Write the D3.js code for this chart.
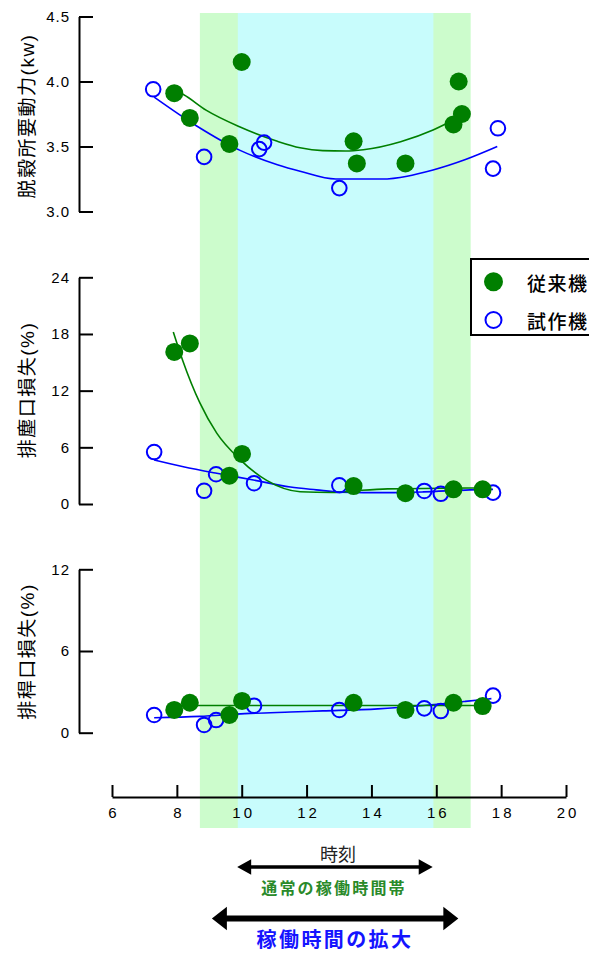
<!DOCTYPE html>
<html>
<head>
<meta charset="utf-8">
<script src="https://cdn.jsdelivr.net/npm/d3@7"></script>
<style>
  html, body { margin: 0; padding: 0; background: #fff; }
  svg { display: block; }
  text { font-family: "Liberation Sans", Arial, "Noto Sans CJK JP", sans-serif; }
  .jp { font-family: "Noto Sans CJK JP", "Liberation Sans", sans-serif; }
</style>
</head>
<body>
<script>
// ---- data -------------------------------------------------------------
// measurement times (hour of day) and values, 従来機 = conventional, 試作機 = prototype
const powerConvT = [7.92, 8.40, 9.62, 10.0, 13.45, 13.55, 15.05, 16.69, 16.79, 16.53];
const powerConvV = [3.91, 3.72, 3.52, 4.15, 3.54, 3.37, 3.37, 4.00, 3.75, 3.67];
const powerProtoT = [7.27, 8.84, 10.54, 10.69, 13.01, 17.75, 17.90];
const powerProtoV = [3.94, 3.42, 3.48, 3.53, 3.18, 3.33, 3.64];

const dustConvT = [7.92, 8.40, 9.62, 10.01, 13.45, 15.05, 16.53, 17.43];
const dustConvV = [16.1, 17.0, 3.0, 5.3, 1.9, 1.15, 1.55, 1.55];
const dustProtoT = [7.30, 8.84, 9.21, 10.38, 13.01, 15.63, 16.14, 17.75];
const dustProtoV = [5.5, 1.4, 3.15, 2.2, 1.98, 1.38, 1.08, 1.2];

const strawConvT = [7.92, 8.40, 9.62, 10.01, 13.45, 15.05, 16.53, 17.43];
const strawConvV = [1.67, 2.2, 1.3, 2.33, 2.2, 1.67, 2.2, 1.96];
const strawProtoT = [7.30, 8.84, 9.21, 10.38, 13.01, 15.63, 16.14, 17.75];
const strawProtoV = [1.3, 0.57, 0.93, 1.98, 1.67, 1.79, 1.59, 2.72];

// fitted trend curves, [time, value]
const powerConvFit = [[7.95, 3.93], [8.2, 3.90], [8.9, 3.78], [9.95, 3.65], [11.1, 3.54], [11.8, 3.49],
  [12.5, 3.468], [13.2, 3.465], [13.75, 3.475], [14.9, 3.537], [15.9, 3.627], [16.5, 3.70]];
const powerProtoFit = [[7.3, 3.88], [8.6, 3.66], [9.95, 3.47], [11.1, 3.36], [11.8, 3.31], [12.9, 3.25],
  [14.3, 3.25], [15.9, 3.32], [16.9, 3.40], [17.88, 3.50]];
const dustConvFit = [[7.89, 18.2], [8.18, 15.2], [8.71, 10.7], [9.23, 7.5], [9.95, 4.7], [10.77, 2.5],
  [11.8, 1.3], [12.8, 1.22], [13.5, 1.4], [14.5, 1.6], [16.5, 1.68], [17.4, 1.7]];
const dustProtoFit = [[7.3, 4.66], [8.2, 3.95], [9.23, 3.25], [10.36, 2.54], [11.5, 1.8], [12.3, 1.5],
  [13.03, 1.26], [14.5, 1.2], [15.6, 1.28], [17.04, 1.5], [17.75, 1.55]];
const strawConvFit = [[7.92, 2.0], [12.0, 2.0], [17.43, 2.0]];
const strawProtoFit = [[7.3, 1.1], [8.7, 1.2], [10.1, 1.4], [11.5, 1.52], [12.5, 1.6], [14.2, 1.75],
  [15.6, 2.0], [16.9, 2.3], [17.7, 2.5]];

// shaded time bands (hours)
const extendedBand = [8.71, 17.06];
const normalBand = [9.88, 15.91];
// arrows under the axis (hours)
const normalArrow = [9.86, 15.89];
const extendedArrow = [9.08, 16.68];

const xTicks = [6, 8, 10, 12, 14, 16, 18, 20];
const powerTicks = [3.0, 3.5, 4.0, 4.5];
const dustTicks = [0, 6, 12, 18, 24];
const strawTicks = [0, 6, 12];

const seriesNames = ["従来機", "試作機"];
const panelTitles = ["脱穀所要動力(kw)", "排塵口損失(%)", "排稈口損失(%)"];

// ---- drawing ----------------------------------------------------------
const W = 589, H = 953;
const GREEN = "#007f00", BLUE = "#0000ff";

const svg = d3.select("body").append("svg").attr("width", W).attr("height", H);

const x = d3.scaleLinear().domain([6, 20]).range([112, 566]);

const panels = [
  { title: panelTitles[0], y: d3.scaleLinear().domain([3, 4.5]).range([211.5, 16.5]), ticks: powerTicks, fmt: d3.format(".1f"),
    conv: [powerConvT, powerConvV], proto: [powerProtoT, powerProtoV], convFit: powerConvFit, protoFit: powerProtoFit, titleY: 116 },
  { title: panelTitles[1], y: d3.scaleLinear().domain([0, 24]).range([504, 277.3]), ticks: dustTicks, fmt: d3.format("d"),
    conv: [dustConvT, dustConvV], proto: [dustProtoT, dustProtoV], convFit: dustConvFit, protoFit: dustProtoFit, titleY: 390 },
  { title: panelTitles[2], y: d3.scaleLinear().domain([0, 12]).range([732.7, 569.3]), ticks: strawTicks, fmt: d3.format("d"),
    conv: [strawConvT, strawConvV], proto: [strawProtoT, strawProtoV], convFit: strawConvFit, protoFit: strawProtoFit, titleY: 651.5 }
];

// background bands
const bandTop = 13, bandBottom = 828;
svg.append("rect")
  .attr("x", x(extendedBand[0])).attr("y", bandTop)
  .attr("width", x(extendedBand[1]) - x(extendedBand[0])).attr("height", bandBottom - bandTop)
  .attr("fill", "#ccfccc");
svg.append("rect")
  .attr("x", x(normalBand[0])).attr("y", bandTop)
  .attr("width", x(normalBand[1]) - x(normalBand[0])).attr("height", bandBottom - bandTop)
  .attr("fill", "#c8fcfc");

// y axes and titles
const axisX = 79;
panels.forEach(p => {
  const g = svg.append("g").attr("transform", `translate(${axisX},0)`)
    .call(d3.axisLeft(p.y).tickValues(p.ticks).tickFormat(p.fmt)
      .tickSizeInner(-14).tickSizeOuter(0).tickPadding(9));
  g.select(".domain").attr("stroke", "#000").attr("stroke-width", 2);
  g.selectAll(".tick line").attr("stroke", "#000").attr("stroke-width", 2);
  g.selectAll(".tick text").attr("fill", "#000").attr("font-size", 15)
    .attr("letter-spacing", "1px")
    .style("font-family", '"Liberation Sans", Arial, sans-serif');

  svg.append("text")
    .attr("transform", `translate(27,${p.titleY}) rotate(-90)`)
    .attr("text-anchor", "middle").attr("dominant-baseline", "central")
    .attr("font-size", 19).attr("letter-spacing", "1.5px").attr("fill", "#000")
    .style("font-family", '"Liberation Sans", Arial, "Noto Sans CJK JP", sans-serif')
    .text(p.title);
});

// x axis
const xAxisY = 797;
const gx = svg.append("g").attr("transform", `translate(0,${xAxisY})`)
  .call(d3.axisBottom(x).tickValues(xTicks).tickFormat(d3.format("d"))
    .tickSizeInner(-12).tickSizeOuter(0).tickPadding(10));
gx.select(".domain").attr("stroke", "#000").attr("stroke-width", 2);
gx.selectAll(".tick line").attr("stroke", "#000").attr("stroke-width", 2);
gx.selectAll(".tick text").attr("fill", "#000").attr("font-size", 15)
  .attr("letter-spacing", "3px").attr("dx", "1.5px")
  .style("font-family", '"Liberation Sans", Arial, sans-serif');

// fits and markers
panels.forEach(p => {
  const line = d3.line().x(d => x(d[0])).y(d => p.y(d[1])).curve(d3.curveMonotoneX);
  svg.append("path").datum(p.protoFit).attr("d", line)
    .attr("fill", "none").attr("stroke", BLUE).attr("stroke-width", 1.6);
  svg.append("path").datum(p.convFit).attr("d", line)
    .attr("fill", "none").attr("stroke", GREEN).attr("stroke-width", 1.6);

  const proto = p.proto[0].map((t, i) => [t, p.proto[1][i]]);
  const conv = p.conv[0].map((t, i) => [t, p.conv[1][i]]);
  svg.append("g").selectAll("circle").data(proto).join("circle")
    .attr("cx", d => x(d[0])).attr("cy", d => p.y(d[1])).attr("r", 7.3)
    .attr("fill", "none").attr("stroke", BLUE).attr("stroke-width", 2);
  svg.append("g").selectAll("circle").data(conv).join("circle")
    .attr("cx", d => x(d[0])).attr("cy", d => p.y(d[1])).attr("r", 9)
    .attr("fill", GREEN);
});

// legend
const lg = svg.append("g");
lg.append("rect").attr("x", 471).attr("y", 259).attr("width", 130).attr("height", 76)
  .attr("fill", "#fff").attr("stroke", "#000").attr("stroke-width", 2);
lg.append("circle").attr("cx", 493.5).attr("cy", 281.7).attr("r", 9.5).attr("fill", GREEN);
lg.append("circle").attr("cx", 493.5).attr("cy", 320).attr("r", 8).attr("fill", "none")
  .attr("stroke", BLUE).attr("stroke-width", 2);
lg.selectAll("text.lab").data(seriesNames).join("text")
  .attr("class", "lab jp")
  .attr("x", 527).attr("y", (d, i) => i === 0 ? 282 : 320)
  .attr("dominant-baseline", "central").attr("font-size", 19).attr("font-weight", 500)
  .attr("letter-spacing", "1.5px").attr("fill", "#000").text(d => d);

// axis caption and arrows
svg.append("text").attr("class", "jp")
  .attr("x", 338).attr("y", 853).attr("text-anchor", "middle").attr("dominant-baseline", "central")
  .attr("font-size", 18).attr("fill", "#222").text("時刻");

function arrow(x1, x2, y, lw, headLen, headHalf) {
  svg.append("line").attr("x1", x1 + headLen - 1).attr("x2", x2 - headLen + 1)
    .attr("y1", y).attr("y2", y).attr("stroke", "#000").attr("stroke-width", lw);
  svg.append("path").attr("d",
    `M${x1},${y} L${x1 + headLen},${y - headHalf} L${x1 + headLen},${y + headHalf} Z` +
    `M${x2},${y} L${x2 - headLen},${y - headHalf} L${x2 - headLen},${y + headHalf} Z`)
    .attr("fill", "#000");
}
arrow(x(normalArrow[0]), x(normalArrow[1]), 867, 3.5, 14, 7.8);
arrow(x(extendedArrow[0]), x(extendedArrow[1]), 918.5, 6, 15, 11.8);

svg.append("text").attr("class", "jp")
  .attr("x", 334).attr("y", 887).attr("text-anchor", "middle").attr("dominant-baseline", "central")
  .attr("font-size", 16).attr("font-weight", 700).attr("letter-spacing", "2.2px")
  .attr("fill", "#2a8a2a").text("通常の稼働時間帯");

svg.append("text").attr("class", "jp")
  .attr("x", 335).attr("y", 938).attr("text-anchor", "middle").attr("dominant-baseline", "central")
  .attr("font-size", 20).attr("font-weight", 700).attr("letter-spacing", "2.4px")
  .attr("fill", "#1414ff").text("稼働時間の拡大");
</script>
</body>
</html>
